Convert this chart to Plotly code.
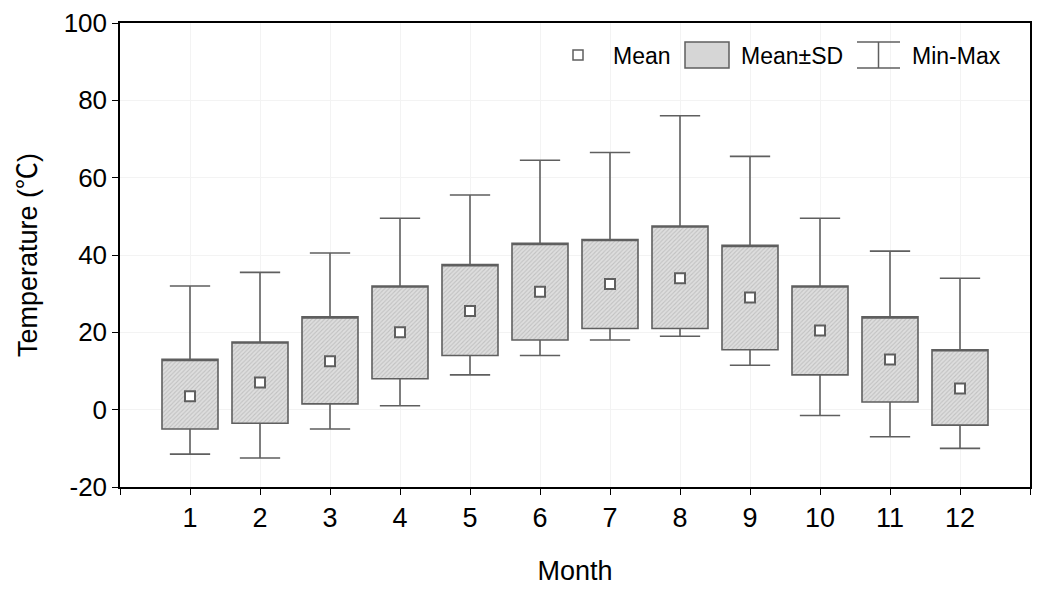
import plotly.graph_objects as go

months = list(range(1, 13))
t_mean = [3.5, 7.0, 12.5, 20.0, 25.5, 30.5, 32.5, 34.0, 29.0, 20.5, 13.0, 5.5]
sd_upper = [13.0, 17.5, 24.0, 32.0, 37.5, 43.0, 44.0, 47.5, 42.5, 32.0, 24.0, 15.5]
sd_lower = [-5.0, -3.5, 1.5, 8.0, 14.0, 18.0, 21.0, 21.0, 15.5, 9.0, 2.0, -4.0]
t_max = [32.0, 35.5, 40.5, 49.5, 55.5, 64.5, 66.5, 76.0, 65.5, 49.5, 41.0, 34.0]
t_min = [-11.5, -12.5, -5.0, 1.0, 9.0, 14.0, 18.0, 19.0, 11.5, -1.5, -7.0, -10.0]

x_ticks = list(range(0, 14))
x_labels = [""] + [str(m) for m in months] + [""]
y_ticks = [-20, 0, 20, 40, 60, 80, 100]
y_labels = ["-20", "0", "20", "40", "60", "80", "100"]

EDGE = "#5f5f5f"
FONT = "Liberation Sans, Arial, sans-serif"

fig = go.Figure()

# hatched SD boxes (fill only)
fig.add_trace(go.Bar(
    x=months,
    y=[u - l for u, l in zip(sd_upper, sd_lower)],
    base=sd_lower,
    width=0.8,
    marker=dict(color="#d8d8d8", line=dict(width=0),
                pattern=dict(shape="/", fgcolor="#a4a4a4", bgcolor="#dedede",
                             size=3, solidity=0.35)),
    showlegend=False, hoverinfo="skip",
))

# box outlines + whiskers
fig.add_trace(go.Box(
    x=months,
    q1=sd_lower, median=sd_upper, q3=sd_upper,
    lowerfence=t_min, upperfence=t_max,
    width=0.8, whiskerwidth=0.72,
    fillcolor="rgba(0,0,0,0)",
    line=dict(color=EDGE, width=1.6),
    showlegend=False, hoverinfo="skip",
))

# mean markers
fig.add_trace(go.Scatter(
    x=months, y=t_mean, mode="markers",
    marker=dict(symbol="square", size=10, color="white",
                line=dict(color=EDGE, width=2)),
    showlegend=False,
))

# manual legend (pixel -> paper)
L, R, T, B = 120, 1030, 23, 487
def px(xp):
    return (xp - L) / (R - L)
def py(yp):
    return (B - yp) / (B - T)

shapes = [
    dict(type="rect", xref="paper", yref="paper",
         x0=px(573), x1=px(583), y0=py(60), y1=py(50),
         line=dict(color=EDGE, width=1.5), fillcolor="white"),
    dict(type="rect", xref="paper", yref="paper",
         x0=px(685), x1=px(729), y0=py(68), y1=py(42),
         line=dict(color=EDGE, width=1.5), fillcolor="#d6d6d6"),
    dict(type="line", xref="paper", yref="paper",
         x0=px(857), x1=px(900), y0=py(42), y1=py(42),
         line=dict(color=EDGE, width=1.5)),
    dict(type="line", xref="paper", yref="paper",
         x0=px(857), x1=px(900), y0=py(68), y1=py(68),
         line=dict(color=EDGE, width=1.5)),
    dict(type="line", xref="paper", yref="paper",
         x0=px(878.5), x1=px(878.5), y0=py(42), y1=py(68),
         line=dict(color=EDGE, width=1.5)),
]
annotations = [
    dict(text="Mean", x=px(611), y=py(56), xref="paper", yref="paper",
         xanchor="left", yanchor="middle", showarrow=False,
         font=dict(size=23, color="black", family=FONT)),
    dict(text="Mean±SD", x=px(739), y=py(56), xref="paper", yref="paper",
         xanchor="left", yanchor="middle", showarrow=False,
         font=dict(size=23, color="black", family=FONT)),
    dict(text="Min-Max", x=px(910), y=py(56), xref="paper", yref="paper",
         xanchor="left", yanchor="middle", showarrow=False,
         font=dict(size=23, color="black", family=FONT)),
]

fig.update_layout(
    width=1039, height=590,
    margin=dict(l=120, r=9, t=23, b=103),
    paper_bgcolor="white", plot_bgcolor="white",
    font=dict(family=FONT, size=25, color="black"),
    shapes=shapes, annotations=annotations,
    bargap=0,
)
fig.update_xaxes(
    range=[0, 13], tickmode="array", tickvals=x_ticks, ticktext=x_labels,
    ticks="outside", ticklen=6, tickcolor="black", tickwidth=1.2,
    showline=True, linecolor="black", linewidth=1.5, mirror=True,
    showgrid=True, gridcolor="#f3f3f3", gridwidth=1, zeroline=False,
    tickfont=dict(size=27, family=FONT), automargin=False,
    title=dict(text="Month", font=dict(size=27, family=FONT), standoff=29),
)
fig.update_yaxes(
    range=[-20, 100], tickmode="array", tickvals=y_ticks, ticktext=y_labels,
    ticks="outside", ticklen=6, tickcolor="black", tickwidth=1.2,
    showline=True, linecolor="black", linewidth=1.5, mirror=True,
    showgrid=True, gridcolor="#f3f3f3", gridwidth=1, zeroline=False,
    tickfont=dict(size=26, family=FONT), automargin=False,
    title=dict(text='Temperature (<span style="font-family:Noto Sans CJK KR">℃</span>)',
               font=dict(size=27, family=FONT), standoff=18),
)

fig.write_html("out.html", post_script="document.body.style.margin='0';",
               config={"displayModeBar": False})
